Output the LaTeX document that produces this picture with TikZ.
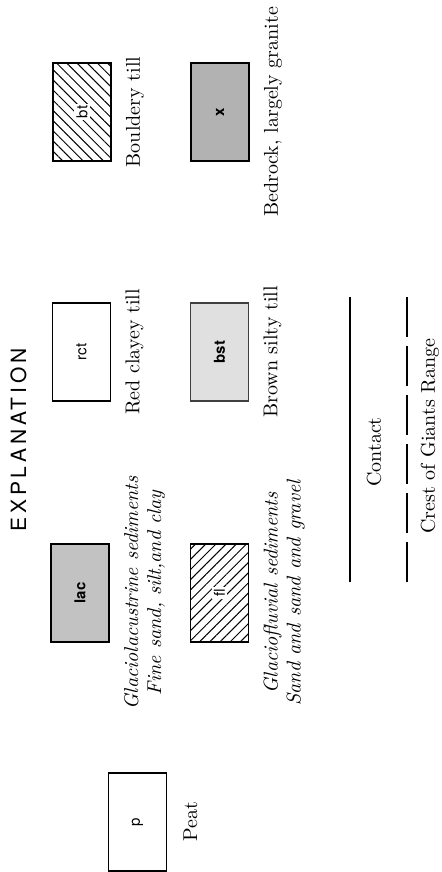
\documentclass[tikz,border=0pt]{standalone}
\usepackage{fontspec}
\setsansfont{TeX Gyre Heros}
\newfontfamily\headfont[LetterSpace=18]{TeX Gyre Heros}
\usetikzlibrary{positioning,patterns.meta}
\definecolor{StippleDark}{gray}{0.70}
\definecolor{StippleMid}{gray}{0.76}
\definecolor{StippleLight}{gray}{0.88}

\begin{document}
\begin{tikzpicture}[x=0.5pt, y=0.5pt, rotate=90, transform shape,
  unit/.style={rectangle, draw, semithick, minimum width=49pt, minimum height=29pt, inner sep=0pt, font=\sffamily\fontsize{7.5}{9}\selectfont},
  tag/.style={fill=white, inner sep=1pt, font=\sffamily\fontsize{7.5}{9}\selectfont},
  caption/.style={inner sep=0pt, align=center, font=\fontsize{10}{12}\selectfont},
  note/.style={caption, font=\itshape\fontsize{10}{11.5}\selectfont},
  contact/.style={semithick},
  crest/.style={semithick, dash pattern=on 19.8pt off 4.7pt}
]
  \useasboundingbox (0,0) rectangle (872,-441);

  \node[font=\headfont\fontsize{10.5}{12}\selectfont] (title) at (432,-18.5) {EXPLANATION};

  % map units
  \node[unit] (p) at (50,-137.5) {p};
  \node[unit, fill=StippleMid] (lac) at (279,-80) {\textbf{lac}};
  \node[unit, pattern={Lines[angle=45, distance=3.6pt, line width=0.5pt]}] (fl) at (279,-219.5) {};
  \node[tag] (fltag) at (fl) {fl};
  \node[unit] (rct) at (520,-81.5) {rct};
  \node[unit, fill=StippleLight, draw=black!75] (bst) at (520,-219.5) {\textbf{bst}};
  \node[unit, pattern={Lines[angle=-45, distance=3.6pt, line width=0.5pt]}] (bt) at (760,-82) {};
  \node[tag] (bttag) at (bt) {bt};
  \node[unit, fill=StippleDark] (x) at (760,-220) {\textbf{x}};

  % captions
  \node[caption, below=8pt of p] (plabel) {Peat};
  \node[note, below=7pt of lac] (laclabel) {Glaciolacustrine sediments\\Fine sand, silt,and clay};
  \node[note, below=7pt of fl] (fllabel) {Glaciofluvial sediments\\Sand and sand and gravel};
  \node[caption, below=7pt of rct] (rctlabel) {Red clayey till};
  \node[caption, below=7pt of bst] (bstlabel) {Brown silty till};
  \node[caption, below=7pt of bt] (btlabel) {Bouldery till};
  \node[caption, below=7pt of x] (xlabel) {Bedrock, largely granite};

  % line symbols
  \coordinate (contactA) at (290,-350);
  \coordinate (contactB) at (575,-350);
  \draw[contact] (contactA) -- (contactB);
  \node[caption] (contactlabel) at (420,-374) {Contact};

  \coordinate (crestA) at (290,-407);
  \coordinate (crestB) at (575,-407);
  \draw[crest] (crestA) -- (crestB);
  \node[caption] (crestlabel) at (436,-430) {Crest of Giants Range};
\end{tikzpicture}
\end{document}
